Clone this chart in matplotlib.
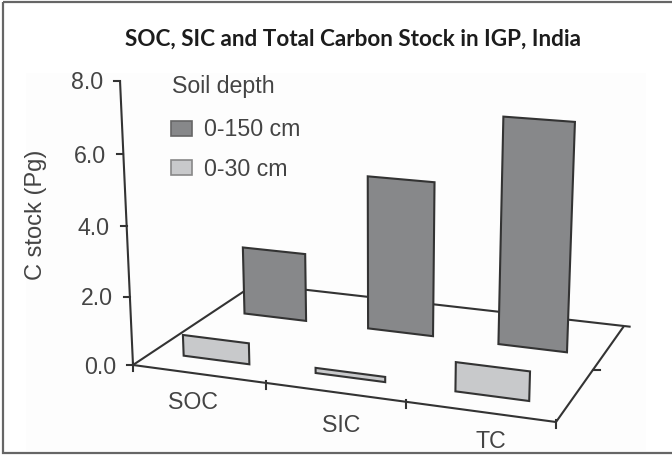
import numpy as np
import matplotlib.pyplot as plt
from matplotlib.patches import Rectangle

categories = ['SOC', 'SIC', 'TC']
stock_150 = [2.1, 4.65, 6.7]
stock_30 = [0.62, 0.15, 0.83]
y_ticks = [0.0, 2.0, 4.0, 6.0, 8.0]

DARK = '#87888a'
LIGHT = '#c8c9cb'
INK = '#333333'
TEXT = '#444444'
LW = 1.5

# camera for the fake 3D box: x = category, d = depth, z = C stock
H = np.array([[125.183, 163.328, 133.0],
              [6.995, -34.972, 365.0],
              [-0.02845, 0.16207, 1.0]])
Z_COL = -0.00625 * np.array([380, 5770, 1])

# category labels sit a little off their slot on the front edge
label_dx = [-5, 6, 11]
label_dy = [29, 33, 30]


def project(x, d, z=0.0):
    p = H @ np.array([x, d, 1.0]) + z * Z_COL
    return p[0] / p[2], p[1] / p[2]


def line3d(a, b):
    pa, pb = project(*a), project(*b)
    ax.plot([pa[0], pb[0]], [pa[1], pb[1]], color=INK, lw=LW, solid_capstyle='butt')


def bar3d(i, d, value, color, zorder):
    x0, x1 = i + 0.24, i + 0.745
    corners = [project(x0, d), project(x1, d), project(x1, d, value), project(x0, d, value)]
    ax.fill(*zip(*corners), facecolor=color, edgecolor=INK, lw=LW, zorder=zorder)


plt.rcParams['font.family'] = 'Liberation Sans'

fig = plt.figure(figsize=(6.72, 4.55), dpi=100)
ax = fig.add_axes([0, 0, 1, 1])
ax.set_xlim(0, 672)
ax.set_ylim(455, 0)
ax.axis('off')

# page frame and the faint scan background
ax.add_patch(Rectangle((26, 73), 620, 378, facecolor='#fdfdfd', edgecolor='none', zorder=0))
ax.add_patch(Rectangle((3, 2), 680, 451, facecolor='none', edgecolor='#666666', lw=1.6, zorder=1))

ax.text(353, 39, 'SOC, SIC and Total Carbon Stock in IGP, India', ha='center', va='center',
        family='Lato', fontweight='bold', fontsize=16.2, color='#1c1c1c')

# floor
line3d((0, 0), (3, 0))
line3d((3, 0), (3, 1))
line3d((3, 1), (0, 1))
line3d((0, 1), (0, 0))
line3d((3, 1), (3.05, 1))

# vertical axis and its ticks
line3d((0, 0, 0), (0, 0, 8))
for t in y_ticks:
    px, py = project(0, 0, t)
    ax.plot([px - 6, px], [py, py], color=INK, lw=LW)
    ax.text(px - 17, py + 2, f'{t:.1f}', ha='right', va='center', fontsize=16.7, color=TEXT)

# category ticks and labels
for i in range(4):
    px, py = project(i, 0)
    ax.plot([px, px], [py - 2, py + 6], color=INK, lw=LW)
for i, label in enumerate(categories):
    px, py = project(i + 0.5, 0)
    ax.text(px + label_dx[i], py + label_dy[i], label, ha='center', va='center',
            fontsize=16.7, color=TEXT)

# depth tick
px, py = project(3, 0.5)
ax.plot([px, px + 7], [py, py], color=INK, lw=LW)

ax.text(36, 215, 'C stock (Pg)', rotation=90, ha='center', va='center', fontsize=17, color=TEXT)

for i in range(len(categories)):
    bar3d(i, 0.645, stock_150[i], DARK, 3)
    bar3d(i, 0.145, stock_30[i], LIGHT, 4)

# legend
ax.text(172, 87, 'Soil depth', ha='left', va='center', fontsize=16.7, color=TEXT)
ax.add_patch(Rectangle((171, 121), 21, 15, facecolor=DARK, edgecolor='#666666', lw=1.2))
ax.text(204, 130, '0-150 cm', ha='left', va='center', fontsize=16.7, color=TEXT)
ax.add_patch(Rectangle((171, 160), 21, 15, facecolor=LIGHT, edgecolor='#888888', lw=1.2))
ax.text(204, 169, '0-30 cm', ha='left', va='center', fontsize=16.7, color=TEXT)

plt.savefig('out.png', dpi=100)
